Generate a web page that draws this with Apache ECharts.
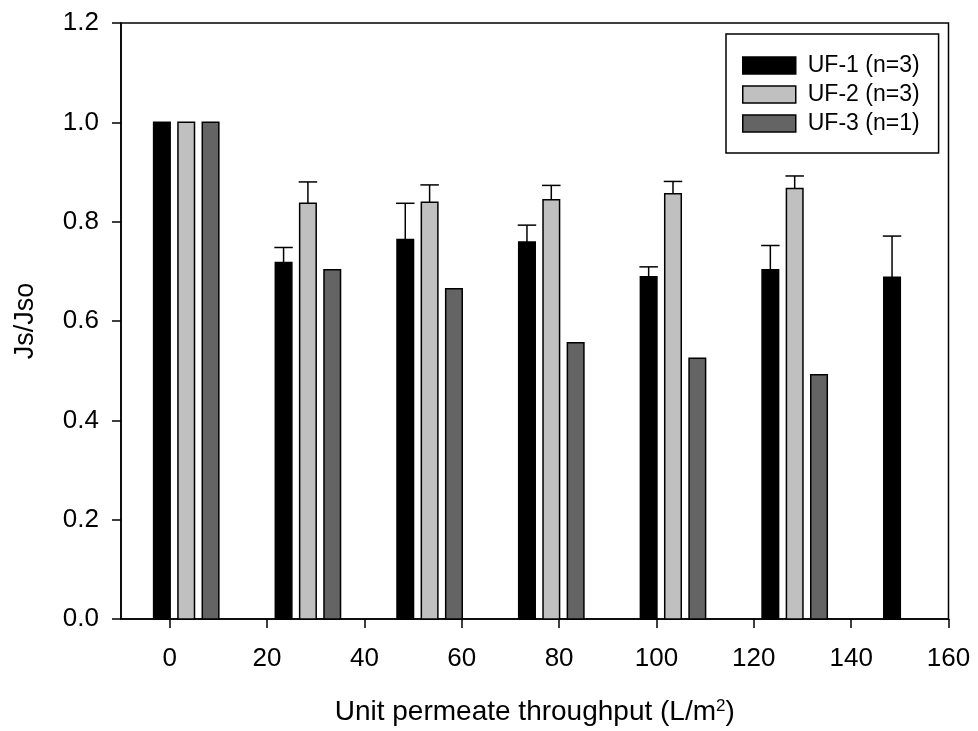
<!DOCTYPE html>
<html><head><meta charset="utf-8">
<script src="https://cdn.jsdelivr.net/npm/echarts@6/dist/echarts.min.js"></script>
<style>html,body{margin:0;padding:0;background:#fff}#c{width:978px;height:731px}</style>
</head><body><div id="c"></div>
<script>
const seriesNames = ['UF-1 (n=3)', 'UF-2 (n=3)', 'UF-3 (n=1)'];
const uf1X = [-1.6, 23.4, 48.4, 73.4, 98.4, 123.4, 148.4];
const uf1Y = [1.0, 0.718, 0.764, 0.759, 0.689, 0.703, 0.688];
const uf1Err = [0, 0.030, 0.073, 0.034, 0.020, 0.049, 0.083];
const uf2X = [3.4, 28.4, 53.4, 78.4, 103.4, 128.4];
const uf2Y = [1.0, 0.837, 0.839, 0.844, 0.856, 0.867];
const uf2Err = [0, 0.043, 0.035, 0.029, 0.025, 0.025];
const uf3X = [8.4, 33.4, 58.4, 83.4, 108.4, 133.4];
const uf3Y = [1.0, 0.703, 0.665, 0.556, 0.525, 0.492];
const uf3Err = [0, 0, 0, 0, 0, 0];
const xTickLabels = [0, 20, 40, 60, 80, 100, 120, 140, 160];
const yTickLabels = [0.0, 0.2, 0.4, 0.6, 0.8, 1.0, 1.2];
const colors = ['#000000', '#c0c0c0', '#646464'];

const BAR_W = 3.4;
const CAP_W = 3.8;
const FONT = '"Liberation Sans", Arial, Helvetica, sans-serif';

function zip(xs, ys, es) { return xs.map((x, i) => [x, ys[i], es[i]]); }

function renderBar(params, api) {
  const x = api.value(0), y = api.value(1), e = api.value(2);
  const w = api.size([BAR_W, 0])[0];
  const top = api.coord([x, y]);
  const base = api.coord([x, 0]);
  const children = [{
    type: 'rect',
    shape: { x: top[0] - w / 2, y: top[1], width: w, height: base[1] - top[1] },
    style: { fill: colors[params.seriesIndex], stroke: '#000', lineWidth: 1.5 }
  }];
  if (e > 0) {
    const tip = api.coord([x, y + e]);
    const cw = api.size([CAP_W, 0])[0];
    children.push({ type: 'line', shape: { x1: top[0], y1: top[1], x2: top[0], y2: tip[1] }, style: { stroke: '#000', lineWidth: 1.5 } });
    children.push({ type: 'line', shape: { x1: top[0] - cw / 2, y1: tip[1], x2: top[0] + cw / 2, y2: tip[1] }, style: { stroke: '#000', lineWidth: 1.5 } });
  }
  return { type: 'group', children };
}

const data = [zip(uf1X, uf1Y, uf1Err), zip(uf2X, uf2Y, uf2Err), zip(uf3X, uf3Y, uf3Err)];

const chart = echarts.init(document.getElementById('c'), null, { renderer: 'canvas' });
chart.setOption({
  animation: false,
  backgroundColor: '#fff',
  textStyle: { fontFamily: FONT, color: '#000' },
  grid: { left: 121, right: 29.5, top: 23, bottom: 111, show: true, borderColor: '#000', borderWidth: 1.5, backgroundColor: 'transparent' },
  legend: {
    orient: 'vertical', left: 726, top: 34,
    padding: [20, 19, 18, 16], itemGap: 6, itemWidth: 53, itemHeight: 17,
    borderColor: '#000', borderWidth: 1.5, backgroundColor: '#fff',
    icon: 'rect',
    textStyle: { fontSize: 23, fontFamily: FONT, color: '#000', padding: [0, 0, 0, 7] },
    data: seriesNames.map((n, i) => ({ name: n, itemStyle: { color: colors[i], borderColor: '#000', borderWidth: 1.5 } }))
  },
  xAxis: {
    type: 'value', min: -10, max: 160,
    splitLine: { show: false },
    axisLine: { show: true, onZero: false, lineStyle: { color: '#000', width: 1.5 } },
    axisTick: { show: true, length: 9, lineStyle: { color: '#000', width: 1.5 }, customValues: xTickLabels },
    axisLabel: { fontSize: 26, color: '#000', fontFamily: FONT, margin: 27, customValues: xTickLabels },
    name: 'Unit permeate throughput (L/m{sup|2})',
    nameLocation: 'middle', nameGap: 79,
    nameTextStyle: { fontSize: 28, color: '#000', fontFamily: FONT,
      rich: { sup: { fontSize: 17, verticalAlign: 'top', fontFamily: FONT, color: '#000' } } }
  },
  yAxis: {
    type: 'value', min: 0, max: 1.2, interval: 0.2,
    splitLine: { show: false },
    axisLine: { show: true, onZero: false, lineStyle: { color: '#000', width: 1.5 } },
    axisTick: { show: true, length: 9, lineStyle: { color: '#000', width: 1.5 } },
    axisLabel: { fontSize: 26, color: '#000', fontFamily: FONT, margin: 22, padding: [3, 0, 0, 0], formatter: v => v.toFixed(1) },
    name: 'Js/Jso', nameLocation: 'middle', nameGap: 82,
    nameTextStyle: { fontSize: 27, color: '#000', fontFamily: FONT }
  },
  series: seriesNames.map((n, i) => ({
    name: n, type: 'custom', renderItem: renderBar,
    itemStyle: { color: colors[i], borderColor: '#000', borderWidth: 1.5 },
    encode: { x: 0, y: 1 },
    data: data[i]
  }))
});
</script></body></html>
